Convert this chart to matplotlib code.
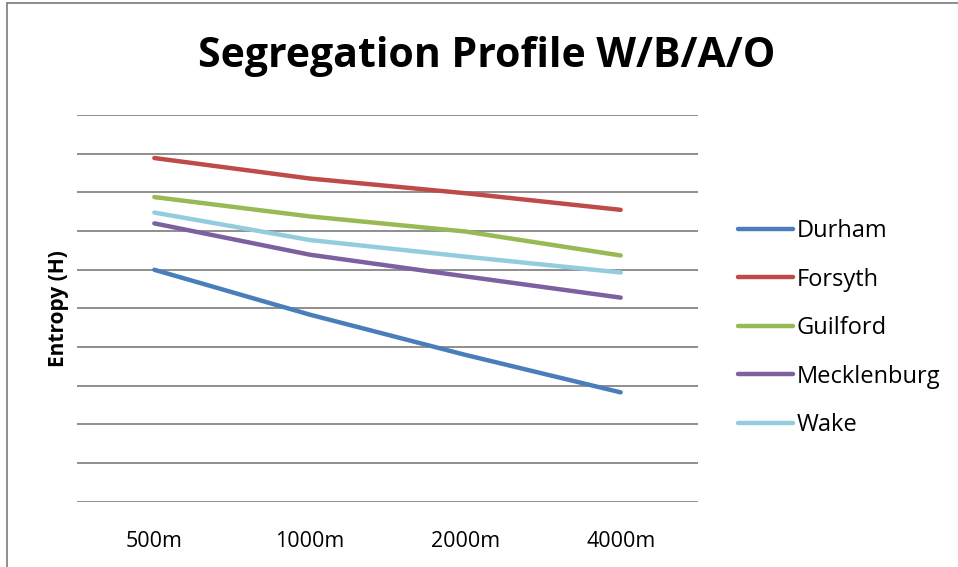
import matplotlib.pyplot as plt
from matplotlib.lines import Line2D

# --- DATA (gridline units 0..1) ---
DISTANCES = ['500m', '1000m', '2000m', '4000m']
durham = [0.600, 0.484, 0.380, 0.283]
forsyth = [0.889, 0.836, 0.798, 0.755]
guilford = [0.788, 0.738, 0.699, 0.637]
mecklenburg = [0.720, 0.639, 0.583, 0.528]
wake = [0.748, 0.677, 0.634, 0.593]

SERIES = ['Durham', 'Forsyth', 'Guilford', 'Mecklenburg', 'Wake']
COLORS = ['#4A7EBB', '#BE4B48', '#98B954', '#7D60A0', '#93CDDD']

plt.rcParams['font.family'] = ['Open Sans', 'DejaVu Sans']

fig = plt.figure(figsize=(9.58, 5.67), dpi=100)
ax = fig.add_axes([0.080, 0.115, 0.649, 0.682])

x = range(len(DISTANCES))
for name, vals, col in zip(SERIES, [durham, forsyth, guilford, mecklenburg, wake], COLORS):
    ax.plot(x, vals, color=col, linewidth=3.2, solid_capstyle='round', label=name)

ax.set_xlim(-0.5, 3.5)
ax.set_ylim(0, 1.0)
ax.set_yticks([i / 10 for i in range(11)])
ax.set_yticklabels([])
ax.tick_params(axis='y', length=0)
ax.set_xticks(list(x))
ax.set_xticklabels(DISTANCES, fontsize=15.5)
ax.tick_params(axis='x', length=0, pad=21)
ax.grid(axis='y', color='#868686', linewidth=1.3)
ax.set_axisbelow(True)
for s in ax.spines.values():
    s.set_visible(False)

ax.set_ylabel('Entropy (H)', fontsize=15, fontweight='bold', labelpad=2)

fig.text(0.508, 0.900, 'Segregation Profile W/B/A/O', ha='center', va='center',
         fontsize=29.5, fontweight='bold')

ax.legend(loc='center left', bbox_to_anchor=(1.030, 0.449), frameon=False,
          fontsize=17, handlelength=2.33, handletextpad=0.15, labelspacing=1.04)

# chart border (left and top edges visible)
fig.add_artist(Line2D([7 / 958, 7 / 958], [0, 1 - 3 / 567], color='#868686', linewidth=1.3))
fig.add_artist(Line2D([7 / 958, 1], [1 - 3 / 567, 1 - 3 / 567], color='#868686', linewidth=1.3))

fig.savefig('out.png', dpi=100)
